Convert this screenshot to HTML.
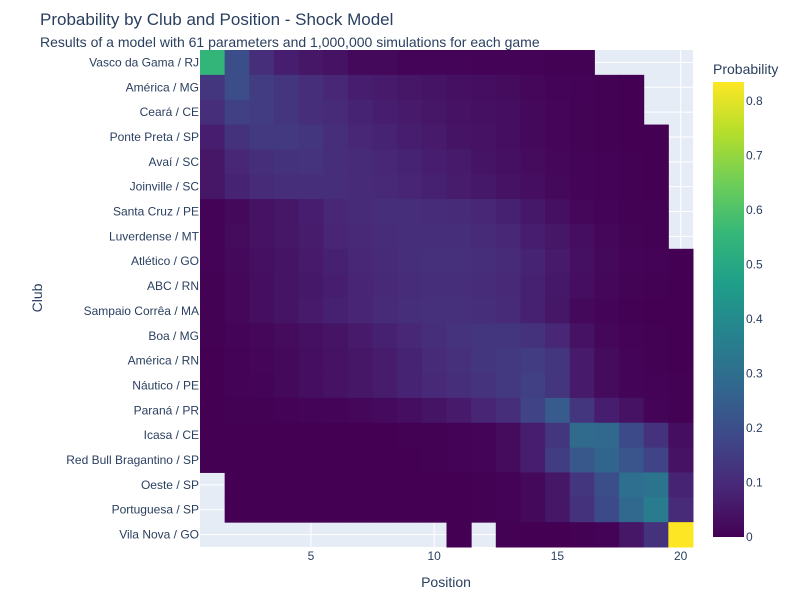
<!DOCTYPE html>
<html><head><meta charset="utf-8"><style>
body{margin:0;background:#fff;font-family:"Liberation Sans","Noto Sans CJK JP",sans-serif;}
svg text{font-family:"Liberation Sans","Noto Sans CJK JP",sans-serif;fill:#2a3f5f;}
</style></head><body>
<svg id="chart" width="800" height="600">
<defs><linearGradient id="vg" x1="0" y1="1" x2="0" y2="0">
<stop offset="0" stop-color="#440154"/><stop offset="0.111" stop-color="#482878"/><stop offset="0.222" stop-color="#3e4989"/><stop offset="0.333" stop-color="#31688e"/><stop offset="0.444" stop-color="#26828e"/><stop offset="0.556" stop-color="#1f9e89"/><stop offset="0.667" stop-color="#35b779"/><stop offset="0.778" stop-color="#6ece58"/><stop offset="0.889" stop-color="#b5de2b"/><stop offset="1" stop-color="#fde725"/></linearGradient></defs>
<text x="40" y="25" font-size="17">Probability by Club and Position - Shock Model</text>
<text x="40" y="47" font-size="14">Results of a model with 61 parameters and 1,000,000 simulations for each game</text>
<rect x="200" y="50" width="493" height="497" fill="#e5ecf6"/>
<g id="grid"></g><g id="cells"></g><g id="ylabels"></g><g id="xlabels"></g>
<text x="446" y="587" font-size="14" text-anchor="middle">Position</text>
<text x="42" y="298" font-size="14" text-anchor="middle" transform="rotate(-90 42 298)">Club</text>
<text x="713" y="74" font-size="14">Probability</text>
<rect x="713" y="82" width="31" height="455" fill="url(#vg)"/>
<g id="cbticks"></g>
</svg>
<script>
const clubs=["Vasco da Gama / RJ","América / MG","Ceará / CE","Ponte Preta / SP","Avaí / SC","Joinville / SC","Santa Cruz / PE","Luverdense / MT","Atlético / GO","ABC / RN","Sampaio Corrêa / MA","Boa / MG","América / RN","Náutico / PE","Paraná / PR","Icasa / CE","Red Bull Bragantino / SP","Oeste / SP","Portuguesa / SP","Vila Nova / GO"];
const positions=[1,2,3,4,5,6,7,8,9,10,11,12,13,14,15,16,17,18,19,20];
const xTicks=[5,10,15,20];
const cbTicks=[0,0.1,0.2,0.3,0.4,0.5,0.6,0.7,0.8];
const zMax=0.835;
const N=null;
const probs=[
[0.55,0.2,0.11,0.07,0.05,0.04,0.02,0.02,0.01,0.01,0.01,0.005,0.005,0.005,0.003,0.002,N,N,N,N],
[0.13,0.2,0.15,0.13,0.11,0.09,0.07,0.06,0.05,0.045,0.035,0.03,0.025,0.015,0.01,0.005,0.003,0.001,N,N],
[0.11,0.16,0.15,0.13,0.11,0.1,0.08,0.07,0.06,0.05,0.04,0.035,0.03,0.02,0.012,0.006,0.003,0.001,N,N],
[0.07,0.12,0.14,0.14,0.13,0.11,0.09,0.08,0.07,0.06,0.045,0.04,0.03,0.02,0.012,0.006,0.003,0.001,0.0005,N],
[0.05,0.09,0.11,0.12,0.125,0.11,0.1,0.09,0.08,0.07,0.06,0.045,0.035,0.025,0.015,0.008,0.004,0.002,0.001,N],
[0.05,0.08,0.1,0.11,0.11,0.11,0.1,0.095,0.085,0.075,0.065,0.055,0.04,0.03,0.02,0.01,0.005,0.002,0.001,N],
[0.005,0.02,0.04,0.05,0.07,0.09,0.1,0.11,0.11,0.105,0.1,0.09,0.075,0.055,0.035,0.015,0.008,0.003,0.002,N],
[0.005,0.025,0.04,0.05,0.065,0.085,0.095,0.105,0.11,0.11,0.11,0.1,0.09,0.07,0.05,0.03,0.015,0.006,0.003,N],
[0.005,0.02,0.035,0.045,0.06,0.075,0.09,0.1,0.11,0.115,0.115,0.11,0.1,0.08,0.06,0.035,0.02,0.008,0.004,0.001],
[0.003,0.015,0.03,0.045,0.055,0.07,0.085,0.095,0.105,0.11,0.11,0.105,0.095,0.075,0.055,0.03,0.015,0.006,0.003,0.001],
[0.003,0.015,0.03,0.045,0.06,0.075,0.085,0.1,0.11,0.115,0.115,0.11,0.1,0.075,0.05,0.02,0.008,0.003,0.001,0.001],
[0.002,0.008,0.015,0.025,0.035,0.045,0.06,0.075,0.09,0.11,0.125,0.13,0.13,0.12,0.09,0.04,0.015,0.005,0.002,0.001],
[0.001,0.005,0.012,0.02,0.03,0.04,0.05,0.065,0.08,0.1,0.115,0.13,0.14,0.15,0.13,0.06,0.025,0.008,0.003,0.001],
[0.001,0.004,0.01,0.02,0.03,0.04,0.05,0.065,0.08,0.095,0.11,0.125,0.14,0.16,0.13,0.06,0.025,0.01,0.004,0.002],
[0.001,0.002,0.003,0.005,0.007,0.01,0.015,0.022,0.03,0.045,0.06,0.085,0.11,0.17,0.24,0.13,0.07,0.04,0.01,0.003],
[0,0,0,0,0,0,0.001,0.001,0.002,0.003,0.005,0.01,0.025,0.07,0.13,0.29,0.28,0.19,0.12,0.03],
[0,0,0,0,0,0,0,0.001,0.001,0.002,0.004,0.008,0.025,0.07,0.15,0.23,0.27,0.22,0.17,0.04],
[N,0,0,0,0,0,0,0,0,0,0.001,0.002,0.005,0.02,0.05,0.13,0.2,0.3,0.32,0.08],
[N,0,0,0,0,0,0,0,0,0,0.001,0.002,0.005,0.02,0.05,0.12,0.19,0.28,0.35,0.1],
[N,N,N,N,N,N,N,N,N,N,0.001,N,0.002,0.001,0.001,0.002,0.005,0.05,0.12,0.835]];
const stops=["#440154","#482878","#3e4989","#31688e","#26828e","#1f9e89","#35b779","#6ece58","#b5de2b","#fde725"].map(h=>[1,3,5].map(i=>parseInt(h.substr(i,2),16)));
function color(v){let t=Math.max(0,Math.min(1,v/zMax))*(stops.length-1);let i=Math.min(Math.floor(t),stops.length-2),f=t-i;const c=stops[i].map((a,k)=>Math.round(a+(stops[i+1][k]-a)*f));return `rgb(${c.join(',')})`;}
const X0=200,X1=693,Y0=50,Y1=547,cw=(X1-X0)/positions.length,rh=(Y1-Y0)/clubs.length;
const xs=p=>X0+(p-0.5)*cw, ys=i=>Y0+(i+0.5)*rh;
const ns="http://www.w3.org/2000/svg";
function mk(tag,attrs,parent,txt){const e=document.createElementNS(ns,tag);for(const k in attrs)e.setAttribute(k,attrs[k]);if(txt!=null)e.textContent=txt;document.getElementById(parent).appendChild(e);return e;}
xTicks.forEach(t=>{const l=mk('line',{x1:xs(t),x2:xs(t),y1:Y0,y2:Y1,stroke:'#fff','stroke-width':1},'grid');


const tx=mk('text',{x:xs(t),y:560,'font-size':12,'text-anchor':'middle'},'xlabels',t);

});
clubs.forEach((c,i)=>{const l=mk('line',{x1:X0,x2:X1,y1:ys(i),y2:ys(i),stroke:'#fff','stroke-width':1},'grid');


const tx=mk('text',{x:199,y:ys(i)+4,'font-size':12,'text-anchor':'end'},'ylabels',c);


positions.forEach((p,j)=>{const v=probs[i][j];if(v==null)return;
const r=mk('rect',{x:xs(p)-cw/2,y:ys(i)-rh/2,width:cw+0.5,height:rh+0.5,fill:color(v)},'cells');

});});
cbTicks.forEach(t=>{const y=537-t/zMax*455;
const tx=mk('text',{x:746,y:y+4,'font-size':12},'cbticks',t===0?'0':t);

});
</script>
</body></html>
